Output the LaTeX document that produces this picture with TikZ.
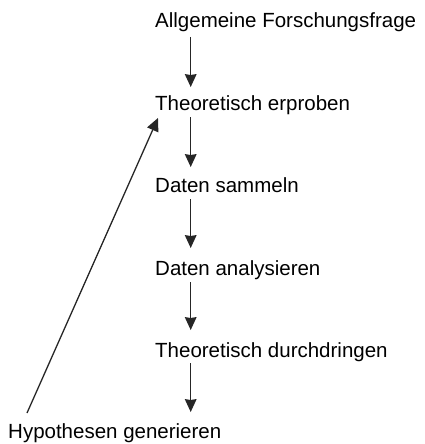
\documentclass[tikz,border=0pt]{standalone}
\usepackage{fontspec}
\setmainfont{Liberation Sans}
\usetikzlibrary{arrows.meta}
% downward arrow tip at a coordinate; the base is drawn as a very shallow V
\newcommand\downtip[1]{%
  \fill[black!85] ([shift={(-6pt,13pt)}]#1) -- (#1) -- ([shift={(6pt,13pt)}]#1)
    -- ([shift={(0pt,12pt)}]#1) -- cycle;}
\begin{document}
\begin{tikzpicture}[
  lbl/.style={anchor=base west,inner sep=0pt,font=\fontsize{20.5}{24}\selectfont,text=black},
  stem/.style={line width=1.3pt,draw=black!85},
  flow/.style={line width=1.3pt,draw=black!85,-{Triangle[width=12pt,length=13pt]}}]
  \useasboundingbox (0pt,0pt) rectangle (425pt,-444pt);
  % process steps
  \node[lbl] (q)   at (155pt,-28pt)  {Allgemeine Forschungsfrage};
  \node[lbl] (te)  at (155pt,-110pt) {Theoretisch erproben};
  \node[lbl] (ds)  at (155pt,-192pt) {Daten sammeln};
  \node[lbl] (da)  at (155pt,-275pt) {Daten analysieren};
  \node[lbl] (td)  at (155pt,-357pt) {Theoretisch durchdringen};
  \node[lbl] (hg)  at (8pt,-438pt)   {Hypothesen generieren};
  % tips of the downward arrows, just above each step
  \coordinate (t1) at ([shift={(35.7pt,23pt)}]te.base west);
  \coordinate (t2) at ([shift={(35.7pt,25pt)}]ds.base west);
  \coordinate (t3) at ([shift={(35.7pt,27pt)}]da.base west);
  \coordinate (t4) at ([shift={(35.7pt,27pt)}]td.base west);
  \coordinate (t5) at ([shift={(35.7pt,-55pt)}]td.base west);
  % vertical flow
  \draw[stem] ([shift={(35.7pt,-9pt)}]q.base west)  -- ([yshift=10pt]t1); \downtip{t1}
  \draw[stem] ([shift={(35.7pt,-7pt)}]te.base west) -- ([yshift=10pt]t2); \downtip{t2}
  \draw[stem] ([shift={(35.7pt,-7pt)}]ds.base west) -- ([yshift=10pt]t3); \downtip{t3}
  \draw[stem] ([shift={(35.7pt,-7pt)}]da.base west) -- ([yshift=10pt]t4); \downtip{t4}
  \draw[stem] ([shift={(35.7pt,-6pt)}]td.base west) -- ([yshift=10pt]t5); \downtip{t5}
  % feedback from hypotheses to theory
  \draw[flow] ([shift={(19pt,25pt)}]hg.base west) -- ([shift={(3pt,-8pt)}]te.base west);
\end{tikzpicture}
\end{document}
